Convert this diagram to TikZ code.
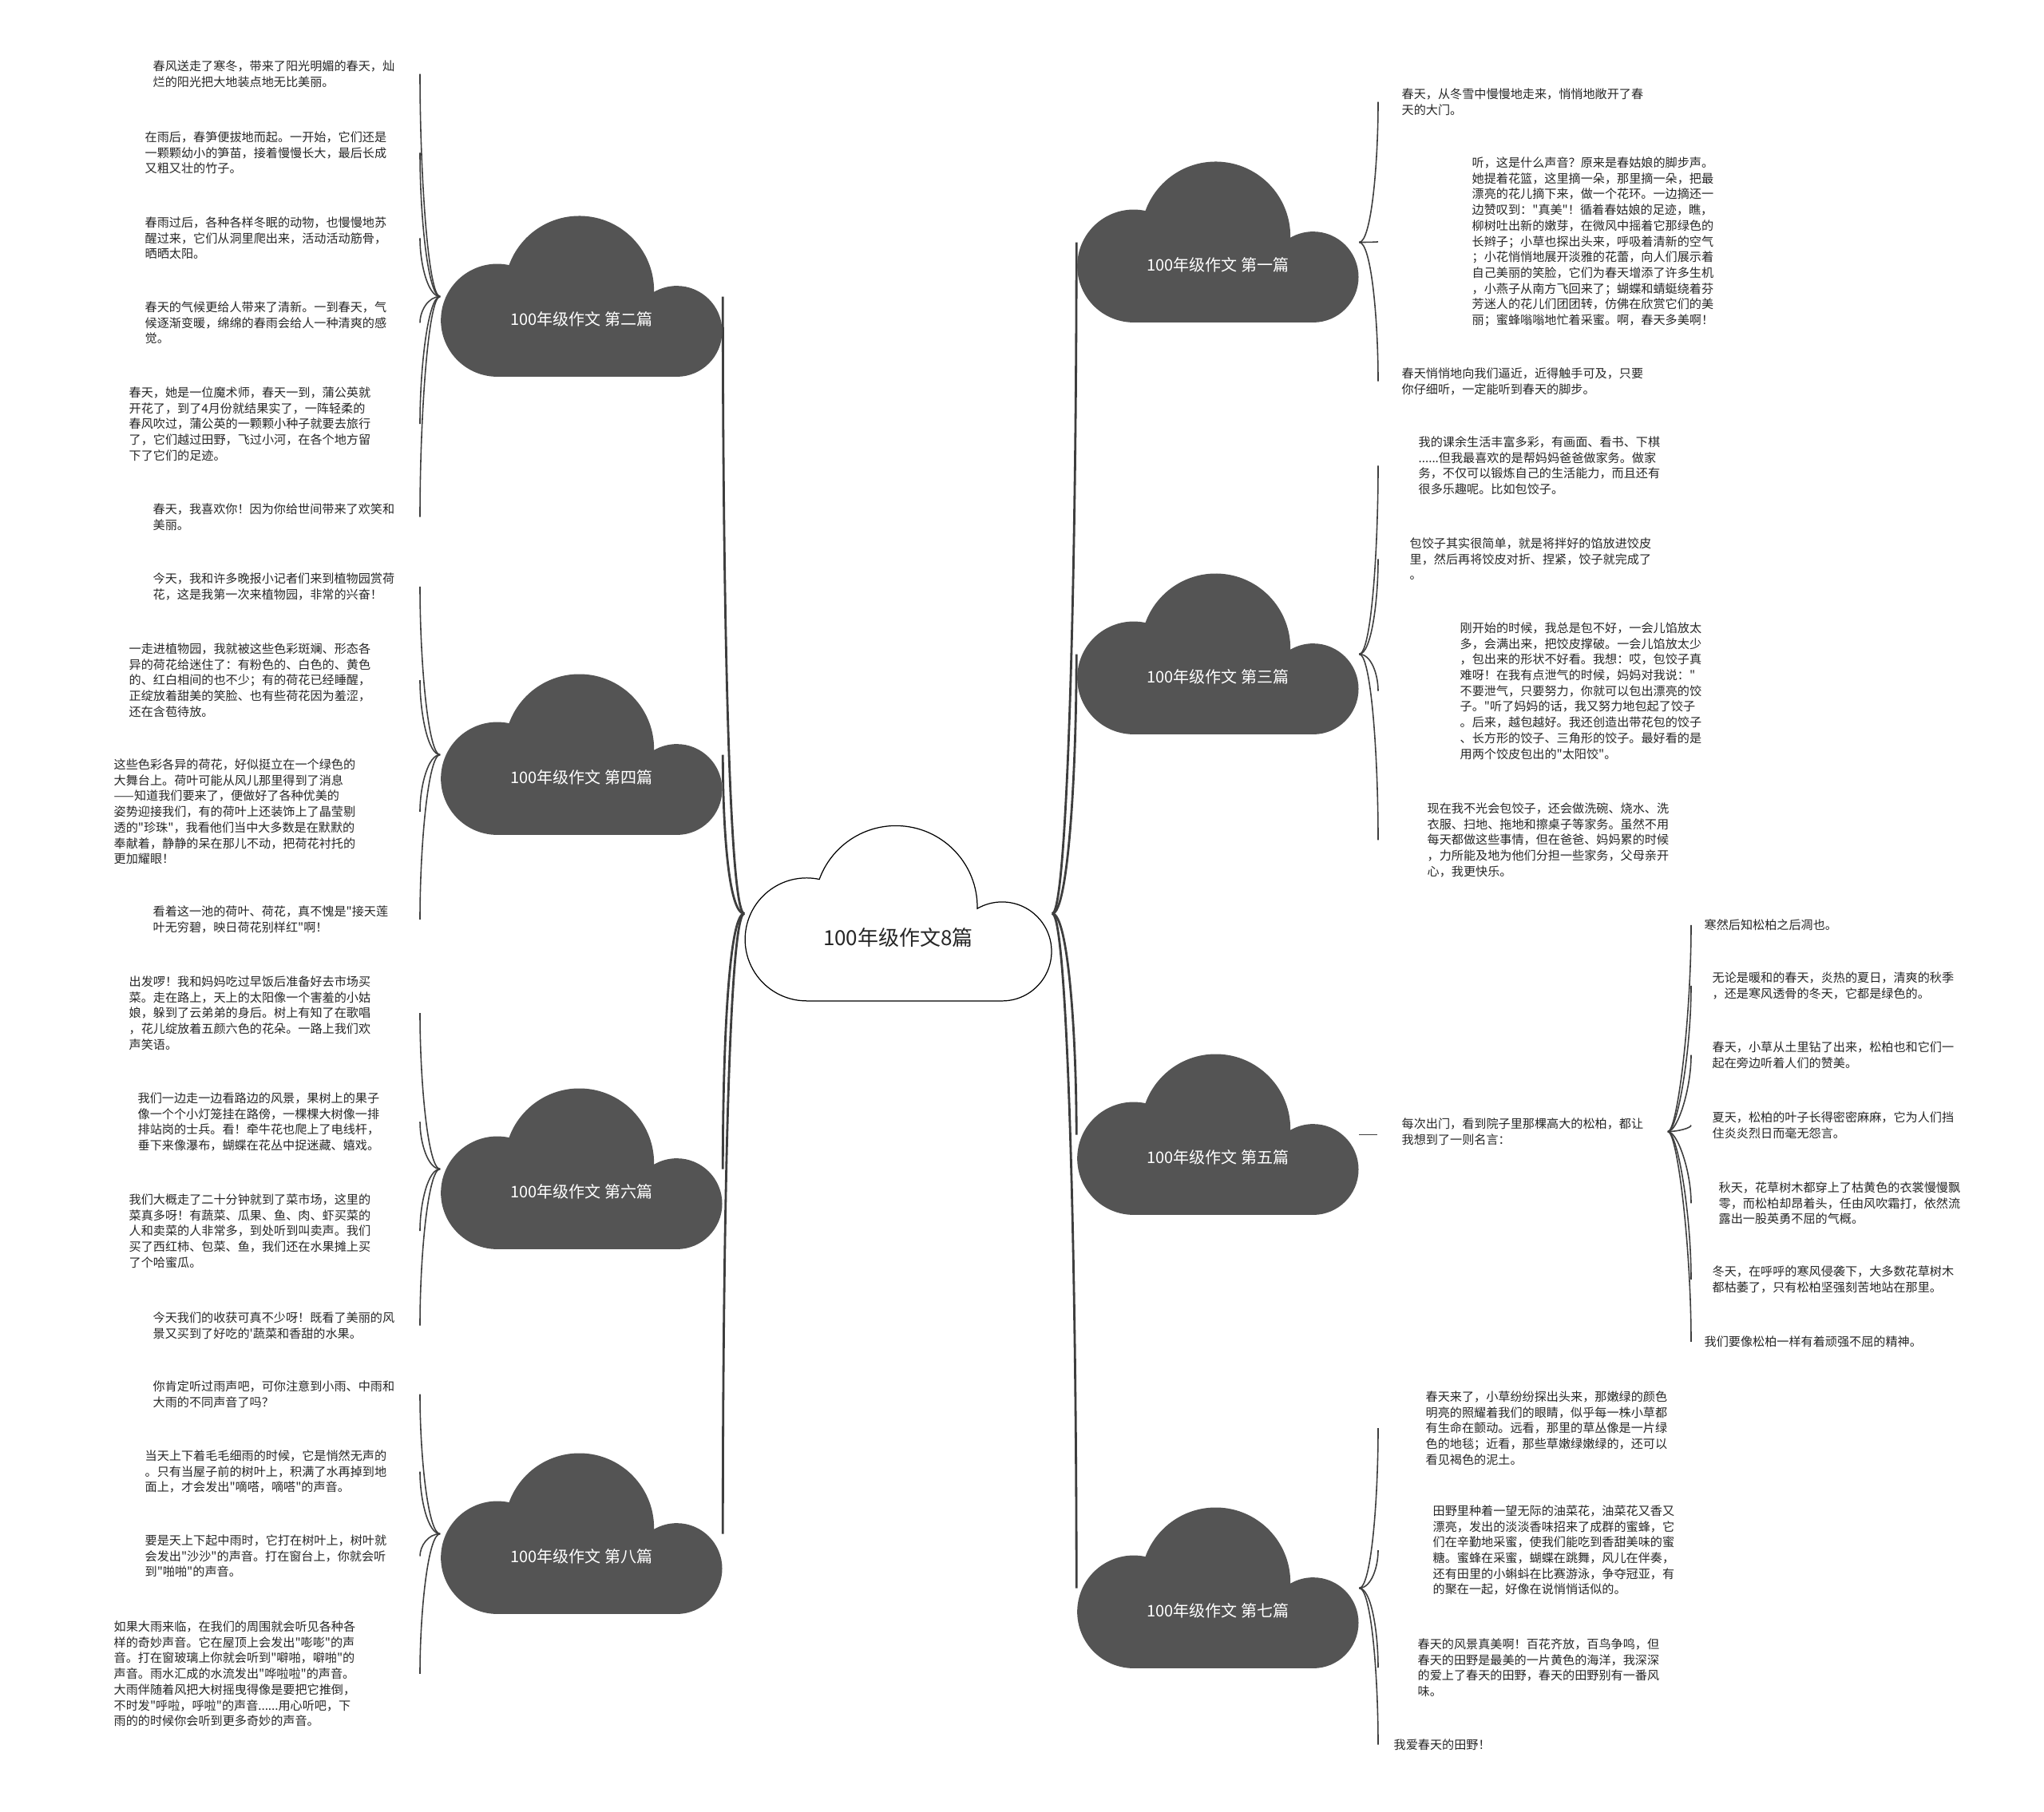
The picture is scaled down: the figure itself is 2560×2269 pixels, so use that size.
\documentclass[tikz,border=0pt]{standalone}
\usepackage{fontspec}
\newfontfamily\cjk{Noto Sans CJK SC}
\usepackage{xcolor}
\usetikzlibrary{calc}
\definecolor{cloudgray}{RGB}{84,84,84}
\definecolor{linegray}{RGB}{62,62,62}

% curved connector: leaves #2 sideways, arrives at #3 vertically
\newcommand{\twig}[4][twigline]{%
  \draw[#1] let \p1=(#2), \p2=(#3) in
    (\p1) .. controls +(#4,0) and +(0pt,{0.45*(\y1-\y2)}) .. (\p2);}

\begin{document}
\begin{tikzpicture}[x=0.01cm, y=-0.01cm,
  every node/.style={font=\cjk},
  leaf/.style={anchor=north west, align=left, inner sep=0pt, text=black!85,
    font=\cjk\fontsize{4.3pt}{5.6pt}\selectfont},
  branchlabel/.style={text=white, font=\cjk\fontsize{5.7pt}{7pt}\selectfont},
  rootlabel/.style={text=black!85, font=\cjk\fontsize{7.4pt}{9pt}\selectfont},
  cloudbox/.style={minimum width=3.525cm, minimum height=2.01cm, inner sep=0pt},
  mainline/.style={draw=linegray, line width=0.8pt},
  twigline/.style={draw=linegray, line width=0.45pt},
  cloud/.pic={\path[pic actions] (77.2,218.9) -- (322,218.9)
      arc[start angle=90, end angle=-120, radius=62]
      arc[start angle=1, end angle=-160, radius=102]
      arc[start angle=-78, end angle=-270, radius=77] -- cycle;}]
  \useasboundingbox (0,0) rectangle (2560,2269);

  % cloud frames
  \node[cloudbox, minimum width=3.84cm, minimum height=2.19cm] (c) at (1125,1144.5) {};
  \foreach \nm/\bx/\by in {b1/1349/203, b3/1349/719, b5/1349/1321, b7/1349/1889,
                          b2/552/271, b4/552/845, b6/552/1364, b8/552/1821}
    \node[cloudbox] (\nm) at (\bx+176.25,\by+100.5) {};

  \coordinate (eL) at (526,0);
  \coordinate (eR) at (1726,0);
  \coordinate (e5) at (2118,0);

  % left leaves
  \node[leaf] (l2a) at (191,75) {春风送走了寒冬，带来了阳光明媚的春天，灿\\烂的阳光把大地装点地无比美丽。};
  \node[leaf] (l2b) at (181,164) {在雨后，春笋便拔地而起。一开始，它们还是\\一颗颗幼小的笋苗，接着慢慢长大，最后长成\\又粗又壮的竹子。};
  \node[leaf] (l2c) at (181,271) {春雨过后，各种各样冬眠的动物，也慢慢地苏\\醒过来，它们从洞里爬出来，活动活动筋骨，\\晒晒太阳。};
  \node[leaf] (l2d) at (181,377) {春天的气候更给人带来了清新。一到春天，气\\候逐渐变暖，绵绵的春雨会给人一种清爽的感\\觉。};
  \node[leaf] (l2e) at (161,484) {春天，她是一位魔术师，春天一到，蒲公英就\\开花了，到了4月份就结果实了，一阵轻柔的\\春风吹过，蒲公英的一颗颗小种子就要去旅行\\了，它们越过田野，飞过小河，在各个地方留\\下了它们的足迹。};
  \node[leaf] (l2f) at (191,630) {春天，我喜欢你！因为你给世间带来了欢笑和\\美丽。};

  \node[leaf] (l4a) at (191,717) {今天，我和许多晚报小记者们来到植物园赏荷\\花，这是我第一次来植物园，非常的兴奋！};
  \node[leaf] (l4b) at (161,805) {一走进植物园，我就被这些色彩斑斓、形态各\\异的荷花给迷住了：有粉色的、白色的、黄色\\的、红白相间的也不少；有的荷花已经睡醒，\\正绽放着甜美的笑脸、也有些荷花因为羞涩，\\还在含苞待放。};
  \node[leaf] (l4c) at (142,950) {这些色彩各异的荷花，好似挺立在一个绿色的\\大舞台上。荷叶可能从风儿那里得到了消息\\——知道我们要来了，便做好了各种优美的\\姿势迎接我们，有的荷叶上还装饰上了晶莹剔\\透的"珍珠"，我看他们当中大多数是在默默的\\奉献着，静静的呆在那儿不动，把荷花衬托的\\更加耀眼！};
  \node[leaf] (l4d) at (191,1134) {看着这一池的荷叶、荷花，真不愧是"接天莲\\叶无穷碧，映日荷花别样红"啊！};

  \node[leaf] (l6a) at (161,1222) {出发啰！我和妈妈吃过早饭后准备好去市场买\\菜。走在路上，天上的太阳像一个害羞的小姑\\娘，躲到了云弟弟的身后。树上有知了在歌唱\\，花儿绽放着五颜六色的花朵。一路上我们欢\\声笑语。};
  \node[leaf] (l6b) at (172,1368) {我们一边走一边看路边的风景，果树上的果子\\像一个个小灯笼挂在路傍，一棵棵大树像一排\\排站岗的士兵。看！牵牛花也爬上了电线杆，\\垂下来像瀑布，蝴蝶在花丛中捉迷藏、嬉戏。};
  \node[leaf] (l6c) at (161,1495) {我们大概走了二十分钟就到了菜市场，这里的\\菜真多呀！有蔬菜、瓜果、鱼、肉、虾买菜的\\人和卖菜的人非常多，到处听到叫卖声。我们\\买了西红柿、包菜、鱼，我们还在水果摊上买\\了个哈蜜瓜。};
  \node[leaf] (l6d) at (191,1643) {今天我们的收获可真不少呀！既看了美丽的风\\景又买到了好吃的'蔬菜和香甜的水果。};

  \node[leaf] (l8a) at (191,1729) {你肯定听过雨声吧，可你注意到小雨、中雨和\\大雨的不同声音了吗？};
  \node[leaf] (l8b) at (181,1816) {当天上下着毛毛细雨的时候，它是悄然无声的\\。只有当屋子前的树叶上，积满了水再掉到地\\面上，才会发出"嘀嗒，嘀嗒"的声音。};
  \node[leaf] (l8c) at (181,1922) {要是天上下起中雨时，它打在树叶上，树叶就\\会发出"沙沙"的声音。打在窗台上，你就会听\\到"啪啪"的声音。};
  \node[leaf] (l8d) at (142,2030) {如果大雨来临，在我们的周围就会听见各种各\\样的奇妙声音。它在屋顶上会发出"嘭嘭"的声\\音。打在窗玻璃上你就会听到"噼啪，噼啪"的\\声音。雨水汇成的水流发出"哗啦啦"的声音。\\大雨伴随着风把大树摇曳得像是要把它推倒，\\不时发"呼啦，呼啦"的声音......用心听吧，下\\雨的的时候你会听到更多奇妙的声音。};

  % right leaves
  \node[leaf] (r1a) at (1755,110) {春天，从冬雪中慢慢地走来，悄悄地敞开了春\\天的大门。};
  \node[leaf] (r1b) at (1843,196) {听，这是什么声音？原来是春姑娘的脚步声。\\她提着花篮，这里摘一朵，那里摘一朵，把最\\漂亮的花儿摘下来，做一个花环。一边摘还一\\边赞叹到："真美"！循着春姑娘的足迹，瞧，\\柳树吐出新的嫩芽，在微风中摇着它那绿色的\\长辫子；小草也探出头来，呼吸着清新的空气\\；小花悄悄地展开淡雅的花蕾，向人们展示着\\自己美丽的笑脸，它们为春天增添了许多生机\\，小燕子从南方飞回来了；蝴蝶和蜻蜓绕着芬\\芳迷人的花儿们团团转，仿佛在欣赏它们的美\\丽；蜜蜂嗡嗡地忙着采蜜。啊，春天多美啊！};
  \node[leaf] (r1c) at (1755,460) {春天悄悄地向我们逼近，近得触手可及，只要\\你仔细听，一定能听到春天的脚步。};

  \node[leaf] (r3a) at (1776,546) {我的课余生活丰富多彩，有画面、看书、下棋\\......但我最喜欢的是帮妈妈爸爸做家务。做家\\务，不仅可以锻炼自己的生活能力，而且还有\\很多乐趣呢。比如包饺子。};
  \node[leaf] (r3b) at (1765,673) {包饺子其实很简单，就是将拌好的馅放进饺皮\\里，然后再将饺皮对折、捏紧，饺子就完成了\\。};
  \node[leaf] (r3c) at (1828,779) {刚开始的时候，我总是包不好，一会儿馅放太\\多，会满出来，把饺皮撑破。一会儿馅放太少\\，包出来的形状不好看。我想：哎，包饺子真\\难呀！在我有点泄气的时候，妈妈对我说："\\不要泄气，只要努力，你就可以包出漂亮的饺\\子。"听了妈妈的话，我又努力地包起了饺子\\。后来，越包越好。我还创造出带花包的饺子\\、长方形的饺子、三角形的饺子。最好看的是\\用两个饺皮包出的"太阳饺"。};
  \node[leaf] (r3d) at (1787,1005) {现在我不光会包饺子，还会做洗碗、烧水、洗\\衣服、扫地、拖地和擦桌子等家务。虽然不用\\每天都做这些事情，但在爸爸、妈妈累的时候\\，力所能及地为他们分担一些家务，父母亲开\\心，我更快乐。};

  \node[leaf, inner xsep=0.3cm] (r5a) at (1725,1400) {每次出门，看到院子里那棵高大的松柏，都让\\我想到了一则名言：};
  \node[leaf] (r5b) at (2134,1151) {寒然后知松柏之后凋也。};
  \node[leaf] (r5c) at (2144,1217) {无论是暖和的春天，炎热的夏日，清爽的秋季\\，还是寒风透骨的冬天，它都是绿色的。};
  \node[leaf] (r5d) at (2144,1304) {春天，小草从土里钻了出来，松柏也和它们一\\起在旁边听着人们的赞美。};
  \node[leaf] (r5e) at (2144,1392) {夏天，松柏的叶子长得密密麻麻，它为人们挡\\住炎炎烈日而毫无怨言。};
  \node[leaf] (r5f) at (2152,1480) {秋天，花草树木都穿上了枯黄色的衣裳慢慢飘\\零，而松柏却昂着头，任由风吹霜打，依然流\\露出一股英勇不屈的气概。};
  \node[leaf] (r5g) at (2144,1585) {冬天，在呼呼的寒风侵袭下，大多数花草树木\\都枯萎了，只有松柏坚强刻苦地站在那里。};
  \node[leaf] (r5h) at (2134,1673) {我们要像松柏一样有着顽强不屈的精神。};

  \node[leaf] (r7a) at (1785,1742) {春天来了，小草纷纷探出头来，那嫩绿的颜色\\明亮的照耀着我们的眼睛，似乎每一株小草都\\有生命在颤动。远看，那里的草丛像是一片绿\\色的地毯；近看，那些草嫩绿嫩绿的，还可以\\看见褐色的泥土。};
  \node[leaf] (r7b) at (1794,1885) {田野里种着一望无际的油菜花，油菜花又香又\\漂亮，发出的淡淡香味招来了成群的蜜蜂，它\\们在辛勤地采蜜，使我们能吃到香甜美味的蜜\\糖。蜜蜂在采蜜，蝴蝶在跳舞，风儿在伴奏，\\还有田里的小蝌蚪在比赛游泳，争夺冠亚，有\\的聚在一起，好像在说悄悄话似的。};
  \node[leaf] (r7c) at (1775,2052) {春天的风景真美啊！百花齐放，百鸟争鸣，但\\春天的田野是最美的一片黄色的海洋，我深深\\的爱上了春天的田野，春天的田野别有一番风\\味。};
  \node[leaf] (r7d) at (1745,2178) {我爱春天的田野！};

  % root to branches
  \foreach \b in {b2,b4,b6,b8} {\twig[mainline]{c.west}{\b.east}{-20}}
  \foreach \b in {b1,b3,b5,b7} {\twig[mainline]{c.east}{\b.west}{20}}

  % branches to leaves
  \foreach \lf in {l2a,l2b,l2c,l2d,l2e,l2f} {\twig{b2.west}{\lf -| eL}{-15}}
  \foreach \lf in {l4a,l4b,l4c,l4d} {\twig{b4.west}{\lf -| eL}{-15}}
  \foreach \lf in {l6a,l6b,l6c,l6d} {\twig{b6.west}{\lf -| eL}{-15}}
  \foreach \lf in {l8a,l8b,l8c,l8d} {\twig{b8.west}{\lf -| eL}{-15}}
  \foreach \lf in {r1a,r1b,r1c} {\twig{b1.east}{\lf -| eR}{15}}
  \foreach \lf in {r3a,r3b,r3c,r3d} {\twig{b3.east}{\lf -| eR}{15}}
  \foreach \lf in {r7a,r7b,r7c,r7d} {\twig{b7.east}{\lf -| eR}{15}}
  \draw[twigline] (b5.east) -- (b5.east -| r5a.west);
  \foreach \lf in {r5b,r5c,r5d,r5e,r5f,r5g,r5h} {\twig{r5a.east}{\lf -| e5}{12}}

  % clouds on top
  \pic[draw=black, line width=0.35pt, fill=white] at (933,1035) {cloud};
  \node[rootlabel] at (1125,1175) {100年级作文8篇};
  \foreach \bx/\by/\lab in {1349/203/第一篇, 1349/719/第三篇, 1349/1321/第五篇, 1349/1889/第七篇,
                            552/271/第二篇, 552/845/第四篇, 552/1364/第六篇, 552/1821/第八篇} {
    \pic[scale=0.918, fill=cloudgray] at (\bx,\by) {cloud};
    \node[branchlabel] at (\bx+176.25,\by+128.5) {100年级作文 \lab};
  }
\end{tikzpicture}
\end{document}
